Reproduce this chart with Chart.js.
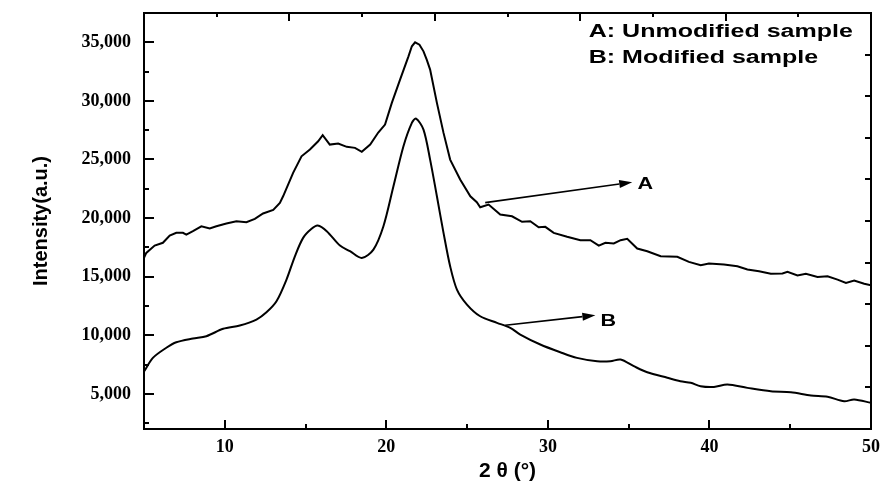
<!DOCTYPE html>
<html>
<head>
<meta charset="utf-8">
<script src="https://cdn.jsdelivr.net/npm/chart.js@4"></script>
<style>
  html, body { margin: 0; padding: 0; background: #fff; }
  #wrap { width: 883px; height: 488px; }
</style>
</head>
<body>
<div id="wrap"><canvas id="chart" width="883" height="488"></canvas></div>
<script>
// 2θ (deg) / intensity
const xA = [5.0, 5.14, 5.66, 6.17, 6.59, 7.0, 7.41, 7.62, 8.03, 8.55, 9.07, 9.48, 10.1, 10.72, 11.34, 11.86,
  12.37, 13.0, 13.41, 13.61, 14.23, 14.75, 15.27, 15.78, 16.06, 16.5, 17.02, 17.55, 18.06, 18.48, 19.0, 19.5,
  19.92, 20.34, 20.85, 21.37, 21.58, 21.78, 22.05, 22.3, 22.5, 22.71, 23.13, 23.54, 23.95, 24.57, 25.2, 25.6,
  25.81, 26.33, 27.05, 27.78, 28.4, 28.91, 29.43, 29.84, 30.36, 31.19, 32.01, 32.63, 33.15, 33.56, 34.08, 34.5,
  34.91, 35.53, 36.15, 36.98, 38.01, 38.73, 39.46, 39.97, 40.9, 41.73, 42.35, 43.07, 43.8, 44.52, 44.83, 45.45,
  45.97, 46.69, 47.31, 47.93, 48.45, 48.96, 49.58, 50.0];
const yA = [16600, 17030, 17650, 17890, 18510, 18740, 18740, 18590, 18880, 19300, 19110, 19300, 19530, 19730, 19640, 19930,
  20390, 20700, 21300, 21860, 23860, 25270, 25850, 26550, 27070, 26270, 26360, 26080, 25990, 25650, 26270, 27300,
  27980, 29830, 31820, 33800, 34660, 35000, 34800, 34230, 33520, 32670, 29830, 27270, 24990, 23290, 21860, 21350,
  20920, 21150, 20300, 20150, 19680, 19730, 19220, 19250, 18740, 18400, 18110, 18110, 17650, 17890, 17830, 18110,
  18230, 17400, 17170, 16740, 16690, 16260, 15970, 16120, 16030, 15890, 15610, 15460, 15240, 15270, 15410, 15100,
  15240, 14980, 15040, 14750, 14470, 14670, 14390, 14270];

const xB = [5.0, 5.55, 6.38, 7.0, 8.03, 8.86, 9.9, 10.93, 11.96, 12.58, 13.2, 13.82, 14.34, 14.85, 15.37, 15.75,
  16.31, 17.13, 17.75, 18.48, 19.2, 19.82, 20.44, 21.06, 21.58, 21.84, 22.3, 22.71, 23.13, 23.54, 23.95, 24.37,
  24.99, 25.81, 26.85, 27.67, 28.29, 29.53, 30.77, 31.8, 33.05, 33.87, 34.5, 35.32, 36.15, 37.39, 38.2, 38.84,
  39.45, 40.28, 41.11, 42.35, 43.8, 45.04, 46.28, 47.31, 48.34, 48.96, 50.0];
const yB = [6900, 8070, 8930, 9400, 9720, 9920, 10550, 10830, 11340, 11960, 12900, 14750, 16740, 18310, 19080, 19360,
  18880, 17650, 17170, 16600, 17310, 19300, 22710, 26130, 28120, 28490, 27550, 24990, 21860, 18740, 15890, 13900,
  12620, 11620, 11060, 10630, 10060, 9210, 8550, 8070, 7780, 7780, 7930, 7360, 6840, 6370, 6080, 5940,
  5650, 5590, 5800, 5510, 5220, 5140, 4860, 4750, 4370, 4520, 4230];

const xTicks = [10, 20, 30, 40, 50];
const yTicks = [5000, 10000, 15000, 20000, 25000, 30000, 35000];

const legendLines = ["A: Unmodified sample", "B: Modified sample"];

// arrows pointing at the curves, in data units
const notes = [
  { label: "A", from: [26.12, 21320], to: [35.22, 23060], at: [35.55, 22860] },
  { label: "B", from: [27.36, 10850], to: [32.94, 11710], at: [33.26, 11170] }
];

const toPts = (xs, ys) => xs.map((x, i) => ({ x, y: ys[i] }));

// ticks drawn inside the frame (Chart.js only draws them outward)
const inTicks = {
  id: "inTicks",
  afterDraw(chart, args, opts) {
    const { ctx } = chart;
    const { left, right, top, bottom } = chart.chartArea;
    ctx.save();
    ctx.strokeStyle = "#000";
    ctx.lineWidth = 2;
    for (const id in opts.axes) {
      const a = opts.axes[id];
      const s = chart.scales[id];
      const start = Math.ceil(s.min / a.step) * a.step;
      for (let v = start; v <= s.max + 1e-9; v += a.step) {
        const k = Math.round(v / a.step);
        const len = (a.every && k % a.every !== 0) ? a.minor : a.major;
        const p = Math.round(s.getPixelForValue(v));
        ctx.beginPath();
        if (s.position === "left") { ctx.moveTo(left, p); ctx.lineTo(left + len, p); }
        else if (s.position === "right") { ctx.moveTo(right, p); ctx.lineTo(right - len, p); }
        else if (s.position === "top") { ctx.moveTo(p, top); ctx.lineTo(p, top + len); }
        else { ctx.moveTo(p, bottom); ctx.lineTo(p, bottom - len); }
        ctx.stroke();
      }
    }
    ctx.restore();
  }
};

const notesPlugin = {
  id: "notes",
  afterDraw(chart) {
    const { ctx } = chart;
    const sx = chart.scales.x, sy = chart.scales.y;
    ctx.save();
    ctx.fillStyle = "#000";
    ctx.strokeStyle = "#000";

    for (const n of notes) {
      const x1 = sx.getPixelForValue(n.from[0]), y1 = sy.getPixelForValue(n.from[1]);
      const x2 = sx.getPixelForValue(n.to[0]), y2 = sy.getPixelForValue(n.to[1]);
      const ang = Math.atan2(y2 - y1, x2 - x1);
      const hl = 13, hw = 4;
      ctx.lineWidth = 1.6;
      ctx.beginPath();
      ctx.moveTo(x1, y1);
      ctx.lineTo(x2 - hl * Math.cos(ang), y2 - hl * Math.sin(ang));
      ctx.stroke();
      ctx.beginPath();
      ctx.moveTo(x2, y2);
      ctx.lineTo(x2 - hl * Math.cos(ang) + hw * Math.sin(ang), y2 - hl * Math.sin(ang) - hw * Math.cos(ang));
      ctx.lineTo(x2 - hl * Math.cos(ang) - hw * Math.sin(ang), y2 - hl * Math.sin(ang) + hw * Math.cos(ang));
      ctx.closePath();
      ctx.fill();

      ctx.save();
      ctx.translate(sx.getPixelForValue(n.at[0]), sy.getPixelForValue(n.at[1]));
      ctx.scale(1.35, 1);
      ctx.font = "bold 16px 'Liberation Sans', Arial, sans-serif";
      ctx.textBaseline = "middle";
      ctx.textAlign = "left";
      ctx.fillText(n.label, 0, 0);
      ctx.restore();
    }

    // text legend, top right
    const lx = sx.getPixelForValue(32.53);
    const base = [sy.getPixelForValue(35430), sy.getPixelForValue(33240)];
    legendLines.forEach((t, i) => {
      ctx.save();
      ctx.translate(lx, base[i]);
      ctx.scale(1.39, 1);
      ctx.font = "bold 18px 'Liberation Sans', Arial, sans-serif";
      ctx.textBaseline = "alphabetic";
      ctx.fillText(t, 0, 0);
      ctx.restore();
    });
    ctx.restore();
  }
};

const tickFont = { family: "'Liberation Serif', 'Times New Roman', serif", size: 18, weight: "bold" };
const titleFont = { family: "'Liberation Sans', Arial, sans-serif", weight: "bold" };
const frame = { display: true, color: "#000", width: 2 };
// outward ticks kept invisible: they only hold the labels off the frame
const ghostGrid = len => ({ display: true, drawOnChartArea: false, drawTicks: true, tickLength: len, tickColor: "rgba(0,0,0,0)" });

new Chart(document.getElementById("chart"), {
  type: "line",
  data: {
    datasets: [
      { label: "A", data: toPts(xA, yA), borderColor: "#000", borderWidth: 2, pointRadius: 0, tension: 0, xAxisID: "x", yAxisID: "y" },
      { label: "B", data: toPts(xB, yB), borderColor: "#000", borderWidth: 2, pointRadius: 0, tension: 0.3, xAxisID: "x", yAxisID: "y" }
    ]
  },
  options: {
    responsive: false,
    animation: false,
    events: [],
    layout: { padding: 0 },
    plugins: {
      legend: { display: false },
      tooltip: { enabled: false },
      inTicks: {
        axes: {
          x: { step: 5, every: 2, major: 9, minor: 5 },
          y: { step: 2500, every: 2, major: 10, minor: 5 },
          x2: { step: 1, every: 2, major: 8, minor: 4 },
          y2: { step: 1, every: 0, major: 6, minor: 6 }
        }
      }
    },
    scales: {
      x: {
        type: "linear", position: "bottom", min: 5, max: 50,
        grid: ghostGrid(8),
        border: frame,
        afterBuildTicks: s => { s.ticks = xTicks.map(v => ({ value: v })); },
        afterFit: s => { s.height = 59; },
        ticks: { color: "#000", font: tickFont, padding: 0, maxRotation: 0 },
        title: { display: true, text: "2 θ (°)", color: "#000", font: { ...titleFont, size: 21 }, padding: { top: 0, bottom: 4 } }
      },
      y: {
        type: "linear", position: "left", min: 2000, max: 37500,
        grid: ghostGrid(13),
        border: frame,
        afterBuildTicks: s => { s.ticks = yTicks.map(v => ({ value: v })); },
        afterFit: s => { s.width = 144; },
        ticks: { color: "#000", font: tickFont, padding: 0, callback: v => v.toLocaleString("en-US") },
        title: { display: true, text: "Intensity(a.u.)", color: "#000", font: { ...titleFont, size: 20 }, padding: { top: 29, bottom: 0 } }
      },
      x2: {
        type: "linear", position: "top", min: 0, max: 10,
        grid: { display: false, drawTicks: false },
        border: frame,
        ticks: { display: false },
        afterFit: s => { s.height = 13; }
      },
      y2: {
        type: "linear", position: "right", min: 0, max: 10,
        grid: { display: false, drawTicks: false },
        border: frame,
        ticks: { display: false },
        afterFit: s => { s.width = 12; }
      }
    }
  },
  plugins: [inTicks, notesPlugin]
});
</script>
</body>
</html>
